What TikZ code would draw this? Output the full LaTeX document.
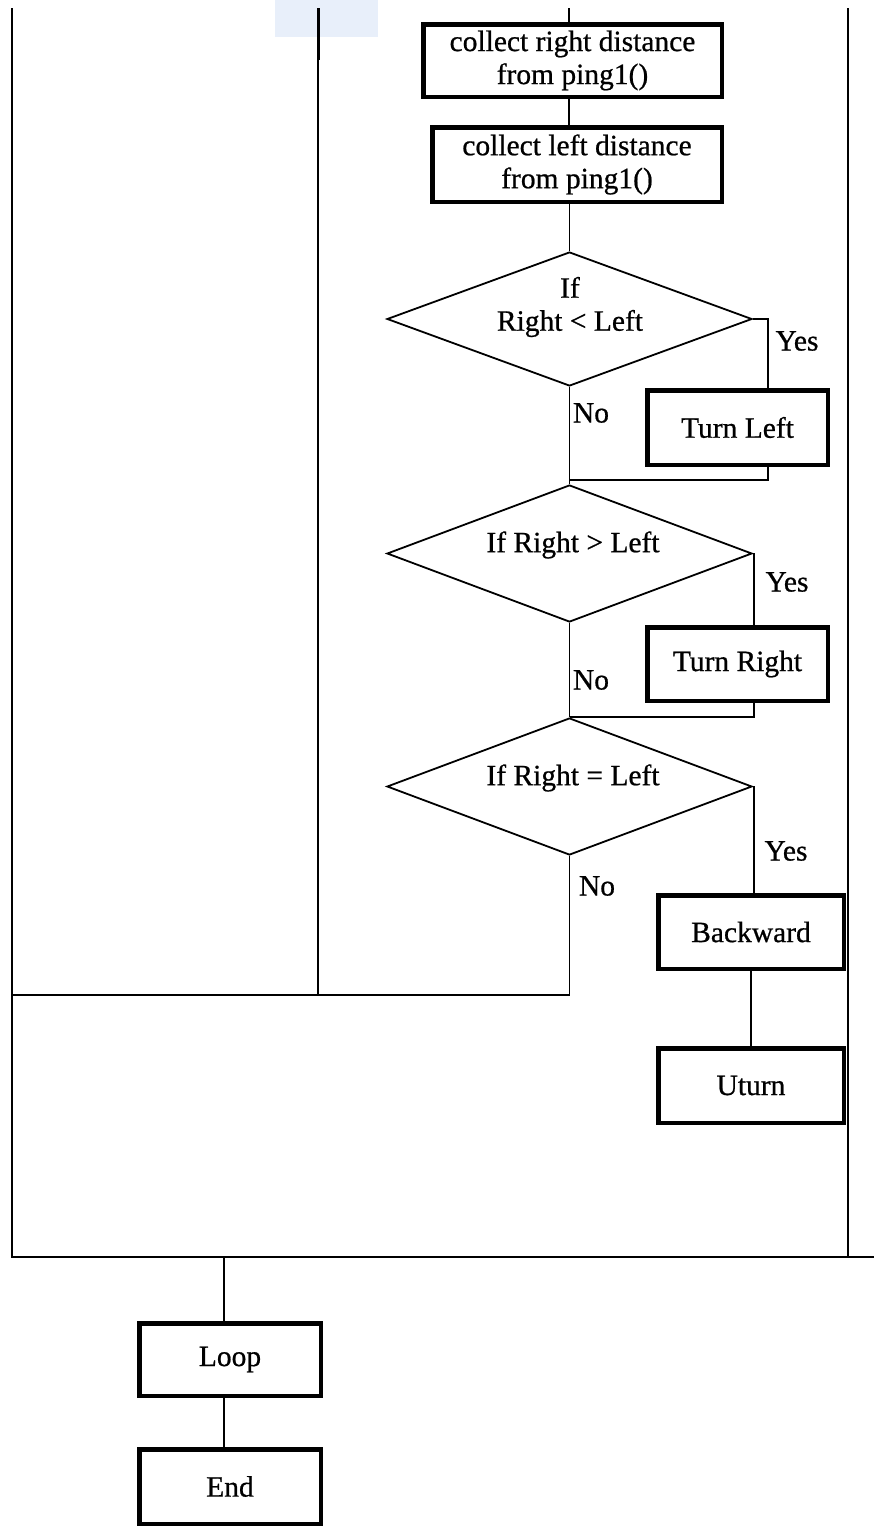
\documentclass[tikz,border=0pt]{standalone}
\usepackage{fontspec}
\setmainfont{Liberation Serif}
\newfontfamily\scanfont[FakeBold=0.7]{Liberation Serif}
\usetikzlibrary{shapes.geometric}
\definecolor{scanblue}{RGB}{232,239,250}
\begin{document}
\begin{tikzpicture}[x=1pt,y=-1pt,
  conn/.style={line width=1.8pt},
  box/.style={draw,line width=4.5pt,rectangle,inner sep=0pt,align=center,font=\scanfont\fontsize{29.5}{33}\selectfont},
  decision/.style={draw,line width=1.8pt,diamond,inner sep=0pt},
  lbl/.style={font=\scanfont\fontsize{29.5}{33}\selectfont,inner sep=0pt,align=center}
]
\useasboundingbox (0,0) rectangle (874,1526);
\fill[scanblue] (275,0) rectangle (378,37);

% boxes
\node[box,minimum width=298.5pt,minimum height=72.5pt] (b1) at (572.5,60.5) {collect right distance\\from ping1()};
\node[box,minimum width=289.5pt,minimum height=74.5pt] (b2) at (577,164.5) {collect left distance\\from ping1()};
\node[box,minimum width=180.5pt,minimum height=74.5pt] (tl) at (737.5,427.5) {Turn Left};
\node[box,minimum width=180.5pt,minimum height=73.5pt] (tr) at (737.5,664) {Turn Right};
\node[box,minimum width=185.5pt,minimum height=73.5pt] (bw) at (751,932) {Backward};
\node[box,minimum width=185.5pt,minimum height=74.5pt] (ut) at (751,1085.5) {Uturn};
\node[box,minimum width=181.5pt,minimum height=72.5pt] (lp) at (230,1359.5) {Loop};
\node[box,minimum width=181.5pt,minimum height=74.5pt] (en) at (230,1486.5) {End};

% decisions
\node[decision,minimum width=365pt,minimum height=134pt] (d1) at (569.5,319) {};
\node[decision,minimum width=365pt,minimum height=137pt] (d2) at (569.5,553.5) {};
\node[decision,minimum width=365pt,minimum height=137pt] (d3) at (569.5,786.5) {};
\node[lbl] (t1) at (570,307) {If\\Right < Left};
\node[lbl] (t2) at (573,545) {If Right > Left};
\node[lbl] (t3) at (573,778) {If Right = Left};

% labels
\node[lbl] (yes1) at (797,341) {Yes};
\node[lbl] (no1) at (591,413) {No};
\node[lbl] (yes2) at (787,582) {Yes};
\node[lbl] (no2) at (591,680) {No};
\node[lbl] (yes3) at (786,851) {Yes};
\node[lbl] (no3) at (597,886) {No};

% coordinates
\coordinate (top) at (569,8);
\coordinate (j1) at (569.5,480);
\coordinate (j2) at (569.5,717);
\coordinate (ljoin) at (12,995);
\coordinate (m) at (224,1257);
\coordinate (ytl) at (768,0);
\coordinate (ytr) at (754,0);
\coordinate (ybw) at (754,0);

% frame lines
\draw[conn] (12,8) -- (12,1257) -- (874,1257);
\draw[conn] (318,8) -- (318,995);
\draw[line width=3pt] (318,8) -- (318,60);
\draw[conn] (848,8) -- (848,1257);

% connectors
\draw[conn] (top) -- (top |- b1.north);
\draw[conn] (b1.south -| top) -- (top |- b2.north);
\draw[conn] (d1.north |- b2.south) -- (d1.north);
\draw[conn] (d1.east) -| (ytl |- tl.north);
\draw[conn] (ytl |- tl.south) |- (j1);
\draw[conn] (d1.south) -- (d2.north);
\draw[conn] (d2.east) -| (ytr |- tr.north);
\draw[conn] (ytr |- tr.south) |- (j2);
\draw[conn] (d2.south) -- (d3.north);
\draw[conn] (d3.east) -| (ybw |- bw.north);
\draw[conn] (bw.south) -- (ut.north);
\draw[conn] (d3.south) |- (ljoin);
\draw[conn] (m) -- (m |- lp.north);
\draw[conn] (lp.south -| m) -- (m |- en.north);
\end{tikzpicture}
\end{document}
